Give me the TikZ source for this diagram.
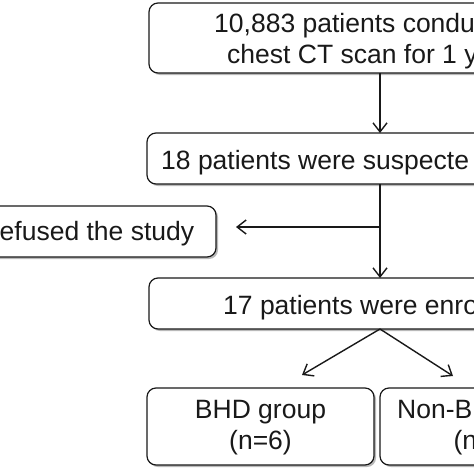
\documentclass[tikz,border=0pt]{standalone}
\usepackage{fontspec}
\setmainfont{Liberation Sans}
\usetikzlibrary{arrows.meta,shadows}
\begin{document}
\begin{tikzpicture}[x=1pt,y=-1pt,
  box/.style={draw=black!90,line width=1.2pt,rounded corners=9pt,fill=white,
    drop shadow={shadow xshift=2pt,shadow yshift=-2pt,fill=black!50,opacity=0.55},
    inner sep=0pt,outer sep=0pt},
  lbl/.style={inner sep=0pt,text=black!90,font=\fontsize{26.5}{31}\selectfont},
  arr/.style={draw=black!90,line width=1.4pt,-{Straight Barb[length=9pt,width=14pt,line width=1.4pt]}}
]
\useasboundingbox (0,0) rectangle (474,474);
\clip (0,0) rectangle (474,474);
\fill[white] (0,0) rectangle (474,474);
% boxes
\node[box,anchor=north west,minimum width=500pt,minimum height=70pt] (b1) at (149,3) {};
\node[box,anchor=north west,minimum width=500pt,minimum height=51pt] (b2) at (147,133) {};
\node[box,anchor=north east,minimum width=400pt,minimum height=51pt] (rf) at (216,206) {};
\node[box,anchor=north west,minimum width=500pt,minimum height=51pt] (b3) at (149,278) {};
\node[box,anchor=north west,minimum width=227pt,minimum height=77pt] (bhd) at (147,388) {};
\node[box,anchor=north west,minimum width=227pt,minimum height=77pt] (non) at (380,388) {};
% texts
\node[lbl,anchor=base west] (t1a) at (214,32) {10,883 patients condu};
\node[lbl,anchor=base west] (t1b) at (227,63) {chest CT scan for 1 y};
\node[lbl,anchor=base west] (t2) at (161,169) {18 patients were suspecte};
\node[lbl,anchor=base west] (trf) at (-0.5,240) {efused the study};
\node[lbl,anchor=base west] (t3) at (223,314) {17 patients were enro};
\node[lbl,anchor=base] (tb1) at (260.5,418) {BHD group};
\node[lbl,anchor=base] (tb2) at (260.5,449) {(n=6)};
\node[lbl,anchor=base west] (tn1) at (397,418) {Non-B};
\node[lbl,anchor=base west] (tn2) at (453.4,449) {(n};
% connectors
\coordinate (c) at (380,0);
\coordinate (br) at (380,227);
\coordinate (e1) at (302,375);
\coordinate (e2) at (453,376);
\draw[arr] (b1.south -| c) -- (b2.north -| c);
\draw[arr] (b2.south -| c) -- (b3.north -| c);
\draw[arr,shorten >=20pt] (br) -- (br -| rf.east);
\draw[arr] (b3.south -| c) -- (e1);
\draw[arr] (b3.south -| c) -- (e2);
\end{tikzpicture}
\end{document}
